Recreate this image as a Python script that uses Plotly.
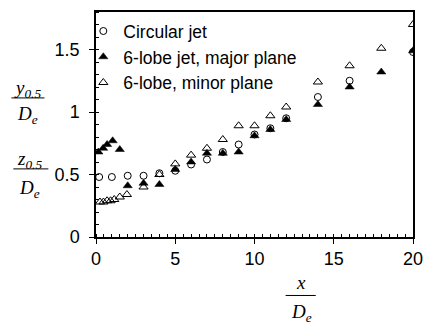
import plotly.graph_objects as go

# Circular jet half-width
x_circ = [0.2, 1, 2, 3, 4, 5, 6, 7, 8, 9, 10, 11, 12, 14, 16, 20]
y_circ = [0.48, 0.48, 0.49, 0.49, 0.51, 0.53, 0.58, 0.62, 0.68, 0.74, 0.82,
          0.87, 0.95, 1.12, 1.25, 1.48]

# 6-lobe jet, major plane
x_major = [0.15, 0.45, 0.7, 1.05, 1.5, 2, 3, 4, 5, 6, 7, 8, 9, 10, 11, 12,
           14, 16, 18, 20]
y_major = [0.68, 0.71, 0.74, 0.77, 0.70, 0.41, 0.43, 0.42, 0.54, 0.60, 0.67,
           0.67, 0.68, 0.81, 0.86, 0.94, 1.06, 1.20, 1.32, 1.49]

# 6-lobe jet, minor plane
x_minor = [0.25, 0.47, 0.7, 0.92, 1.15, 1.5, 1.95, 3, 4, 5, 6, 7, 8, 9, 10,
           11, 12, 14, 16, 18, 20]
y_minor = [0.28, 0.28, 0.29, 0.29, 0.30, 0.32, 0.34, 0.40, 0.50, 0.585, 0.655,
           0.71, 0.78, 0.89, 0.89, 0.97, 1.04, 1.24, 1.37, 1.51, 1.70]

series_names = ["Circular jet", "6-lobe jet, major plane", "6-lobe, minor plane"]

SANS = "Liberation Sans, Arial, sans-serif"
SERIF = "Liberation Serif, Times New Roman, serif"

fig = go.Figure()
fig.add_trace(go.Scatter(
    x=x_circ, y=y_circ, mode="markers", name=series_names[0],
    marker=dict(symbol="circle-open", size=7, color="black", line=dict(width=1, color="black")),
))
fig.add_trace(go.Scatter(
    x=x_major, y=y_major, mode="markers", name=series_names[1],
    marker=dict(symbol="triangle-up", size=8, color="black", line=dict(width=0.5, color="black")),
))
fig.add_trace(go.Scatter(
    x=x_minor, y=y_minor, mode="markers", name=series_names[2],
    marker=dict(symbol="triangle-up-open", size=8, color="black", line=dict(width=1, color="black")),
))

axis_common = dict(
    showline=True, linecolor="black", linewidth=1.5, mirror=True,
    showgrid=False, zeroline=False,
    ticks="outside", ticklen=5, tickwidth=1, tickcolor="black",
    tickfont=dict(family=SANS, size=18, color="black"),
)

fig.update_xaxes(range=[0, 20], tick0=0, dtick=5,
                 minor=dict(ticks="inside", ticklen=3, tickcolor="black", dtick=0.5, showgrid=False),
                 **axis_common)
fig.update_yaxes(range=[0, 1.8], tick0=0, dtick=0.5, ticklabelstandoff=6,
                 minor=dict(ticks="inside", ticklen=3, tickcolor="black", dtick=0.1, showgrid=False),
                 **axis_common)

L, R, T, B = 96, 11, 10, 90
W, H = 433, 327
pw, ph = W - L - R, H - T - B


def px_x(px):
    return (px - L) / pw


def px_y(py):
    return (H - B - py) / ph


def fraction(cx, num, den, y_num, y_line, y_den, x0, x1):
    fig.add_annotation(text=num, x=px_x(cx), y=px_y(y_num), xref="paper", yref="paper",
                       showarrow=False, xanchor="center", yanchor="middle",
                       font=dict(family=SERIF, size=19, color="black"))
    fig.add_annotation(text=den, x=px_x(cx), y=px_y(y_den), xref="paper", yref="paper",
                       showarrow=False, xanchor="center", yanchor="middle",
                       font=dict(family=SERIF, size=19, color="black"))
    fig.add_shape(type="line", xref="paper", yref="paper",
                  x0=px_x(x0), x1=px_x(x1), y0=px_y(y_line), y1=px_y(y_line),
                  line=dict(color="black", width=1))


fraction(26, "<i>y<sub>0.5</sub></i>", "<i>D<sub>e</sub></i>", 88, 96.7, 114, 9, 43)
fraction(28, "<i>z<sub>0.5</sub></i>", "<i>D<sub>e</sub></i>", 159, 168.3, 189, 11, 47)
fraction(307, "<i>x</i>", "<i>D<sub>e</sub></i>", 283, 296, 314, 291, 322)

fig.update_layout(
    width=W, height=H,
    margin=dict(l=L, r=R, t=T, b=B),
    plot_bgcolor="white", paper_bgcolor="white",
    showlegend=True,
    legend=dict(x=-0.04, y=0.995, xanchor="left", yanchor="top",
                bgcolor="rgba(0,0,0,0)", borderwidth=0,
                font=dict(family=SANS, size=17.5, color="black"),
                itemwidth=30, tracegroupgap=0),
)

fig.write_html("out.html")
